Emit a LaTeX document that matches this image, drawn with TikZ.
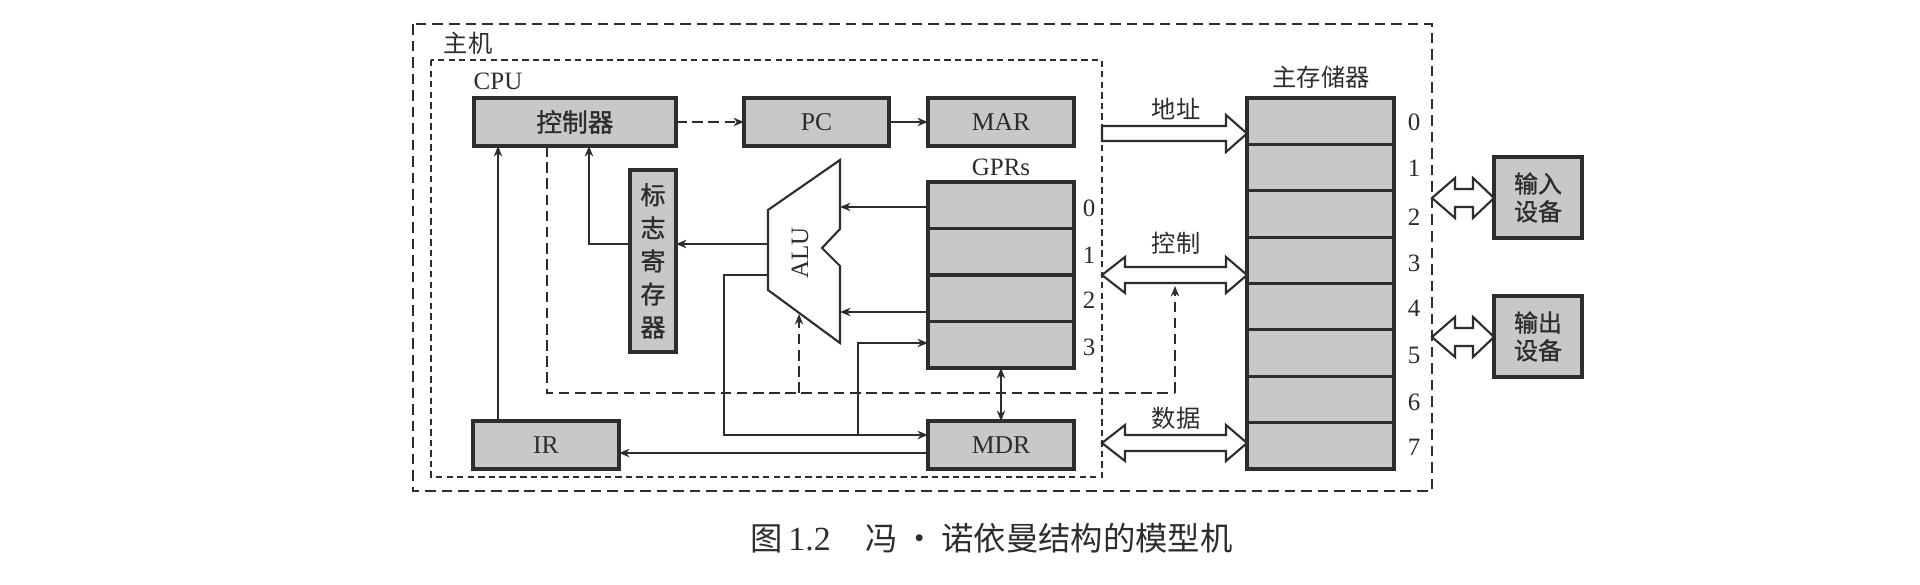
\documentclass[tikz,border=0pt]{standalone}
\usepackage{fontspec}
\setmainfont{Liberation Serif}
\newfontfamily\cjk{Noto Sans CJK SC}
\newfontfamily\cjkb{Noto Sans CJK SC}[FakeBold=1.2]
\usetikzlibrary{arrows.meta,calc}
\definecolor{ink}{RGB}{45,45,45}
\definecolor{boxfill}{RGB}{200,200,200}
\tikzset{
  lbl/.style={font=\fontsize{7.1}{8.5}\selectfont, text=ink, inner sep=0pt},
  clbl/.style={font=\cjk\fontsize{6.9}{8.5}\selectfont, text=ink, inner sep=0pt},
  regbox/.style={draw=ink, fill=boxfill, line width=0.9pt, inner sep=0pt, outer sep=0pt, text=ink,
     font=\fontsize{7.3}{8.5}\selectfont},
  arr/.style={draw=ink, line width=0.45pt, -{Stealth[length=3pt,width=2.4pt]}},
  dbl/.style={draw=ink, line width=0.45pt, {Stealth[length=3pt,width=2.4pt]}-{Stealth[length=3pt,width=2.4pt]}},
  ln/.style={draw=ink, line width=0.45pt},
  ctl/.style={draw=ink, line width=0.45pt, dash pattern=on 3pt off 1.6pt},
  outerdash/.style={draw=ink, line width=0.45pt, dash pattern=on 3pt off 1.7pt},
  cpudash/.style={draw=ink, line width=0.45pt, dash pattern=on 1.8pt off 1.2pt},
  fat/.style={draw=ink, fill=white, line width=0.6pt, line join=miter},
}
\begin{document}
\begin{tikzpicture}[x=0.01cm,y=-0.01cm]
\useasboundingbox (0,0) rectangle (1920,585);
\fill[white] (0,0) rectangle (1920,585);

% frames
\draw[outerdash] (413,24) rectangle (1432,491);
\draw[cpudash] (431,60) rectangle (1102,477);
\node[clbl] (host) at (468,43) {主机};
\node[lbl] (cpu) at (498,81) {CPU};

% registers
\node[regbox, minimum width=2.02cm, minimum height=0.48cm] (ctrl) at (575,122) {\cjkb 控制器};
\node[regbox, minimum width=1.45cm, minimum height=0.48cm] (pc) at (816.5,122) {PC};
\node[regbox, minimum width=1.46cm, minimum height=0.48cm] (mar) at (1001,122) {MAR};
\node[lbl] (gprs) at (1001,167) {GPRs};
\foreach \i/\yy/\ny in {0/205.25/208,1/251.75/255,2/298.25/300,3/344.75/347}{
  \node[regbox, minimum width=1.46cm, minimum height=0.465cm] (g\i) at (1001,\yy) {};
  \node[lbl] (gn\i) at (1089,\ny) {\i};
}
\node[regbox, minimum width=0.46cm, minimum height=1.82cm, font=\cjkb\fontsize{7.1}{8.2}\selectfont,
      align=center] (flag) at (653,261) {标\\[1.2pt]志\\[1.2pt]寄\\[1.2pt]存\\[1.2pt]器};
\node[regbox, minimum width=1.46cm, minimum height=0.48cm] (ir) at (546,445) {IR};
\node[regbox, minimum width=1.46cm, minimum height=0.48cm] (mdr) at (1001,445) {MDR};

% ALU
\coordinate (a1) at (840,160);
\coordinate (a2) at (840,229);
\coordinate (a3) at (822,248);
\coordinate (a4) at (840,266);
\coordinate (a5) at (840,343);
\coordinate (a6) at (768,290);
\coordinate (a7) at (768,210);
\draw[draw=ink, line width=0.6pt, line join=miter] (a1) -- (a2) -- (a3) -- (a4) -- (a5) -- (a6) -- (a7) -- cycle;
\node[lbl, rotate=90] (alu) at (800,253) {ALU};

% main memory
\node[clbl] (memlbl) at (1321,77) {主存储器};
\foreach \i in {0,...,7}{
  \node[regbox, minimum width=1.47cm, minimum height=0.46375cm] (m\i) at (1320.5,{121.19+46.375*\i}) {};
}
\foreach \i/\ny in {0/122,1/168,2/217,3/263,4/308,5/355,6/402,7/447}{
  \node[lbl] (mn\i) at (1414,\ny) {\i};
}

% I/O devices
\node[regbox, minimum width=0.88cm, minimum height=0.81cm, font=\cjkb\fontsize{6.8}{7.9}\selectfont,
      align=center] (inp) at (1538,197.5) {输入\\设备};
\node[regbox, minimum width=0.88cm, minimum height=0.81cm, font=\cjkb\fontsize{6.8}{7.9}\selectfont,
      align=center] (outp) at (1538,336.5) {输出\\设备};

% connectors inside CPU
\draw[ctl, -{Stealth[length=3pt,width=2.4pt]}] (ctrl.east) -- (pc.west);
\draw[arr] (pc.east) -- (mar.west);
\draw[arr] (g0.west |- 0,207) -- (840,207);
\draw[arr] (g2.west |- 0,312) -- (840,312);
\draw[arr] (768,244) -- (flag.east |- 0,244);
\draw[arr] (flag.west |- 0,244) -- (589,244) -- (ctrl.south -| 589,0);
\draw[arr] (ir.north -| 498,0) -- (ctrl.south -| 498,0);
\coordinate (jn) at (858,435);
\draw[arr] (768,275) -- (724,275) -- (724,435) -- (mdr.west |- jn);
\draw[arr] (jn) -- (858,343) -- (g3.west |- 0,343);
\draw[arr] (mdr.west |- 0,453) -- (ir.east |- 0,453);
\draw[dbl] (g3.south) -- (mdr.north);

% control (dashed)
\coordinate (cbot) at (547,393);
\coordinate (cright) at (1175,393);
\draw[ctl] (ctrl.south -| cbot) -- (cbot) -- (cright);
\draw[ctl, -{Stealth[length=3pt,width=2.4pt]}] (cright) -- (1175,286);
\draw[ctl, -{Stealth[length=3pt,width=2.4pt]}] (799,393) -- (799,314);

% buses
\draw[fat] (1102,126) -- (1226,126) -- (1226,115) -- (m0.west |- 0,133.5) -- (1226,152) -- (1226,141) -- (1102,141) -- cycle;
\node[clbl] (addr) at (1176,109) {地址};
\foreach \yy in {275,443}{
  \draw[fat] (1102,\yy) -- (1125,\yy-18) -- (1125,\yy-8) -- (1226,\yy-8) -- (1226,\yy-18) -- (1247,\yy)
        -- (1226,\yy+18) -- (1226,\yy+8) -- (1125,\yy+8) -- (1125,\yy+18) -- cycle;
}
\node[clbl] (ctllbl) at (1176,243) {控制};
\node[clbl] (datlbl) at (1176,418) {数据};
\foreach \yy in {198,337}{
  \draw[fat] (1432,\yy) -- (1455,\yy-20) -- (1455,\yy-9) -- (1473,\yy-9) -- (1473,\yy-20) -- (1494,\yy)
        -- (1473,\yy+20) -- (1473,\yy+9) -- (1455,\yy+9) -- (1455,\yy+20) -- cycle;
}

% caption
\node[font=\cjk\fontsize{9.2}{11}\selectfont, text=ink, inner sep=0pt, anchor=west] (cap) at (750,538)
  {图\,{\rmfamily\fontsize{9.6}{11}\selectfont 1.2}\hspace{10pt}冯\,•\,诺依曼结构的模型机};
\end{tikzpicture}
\end{document}
